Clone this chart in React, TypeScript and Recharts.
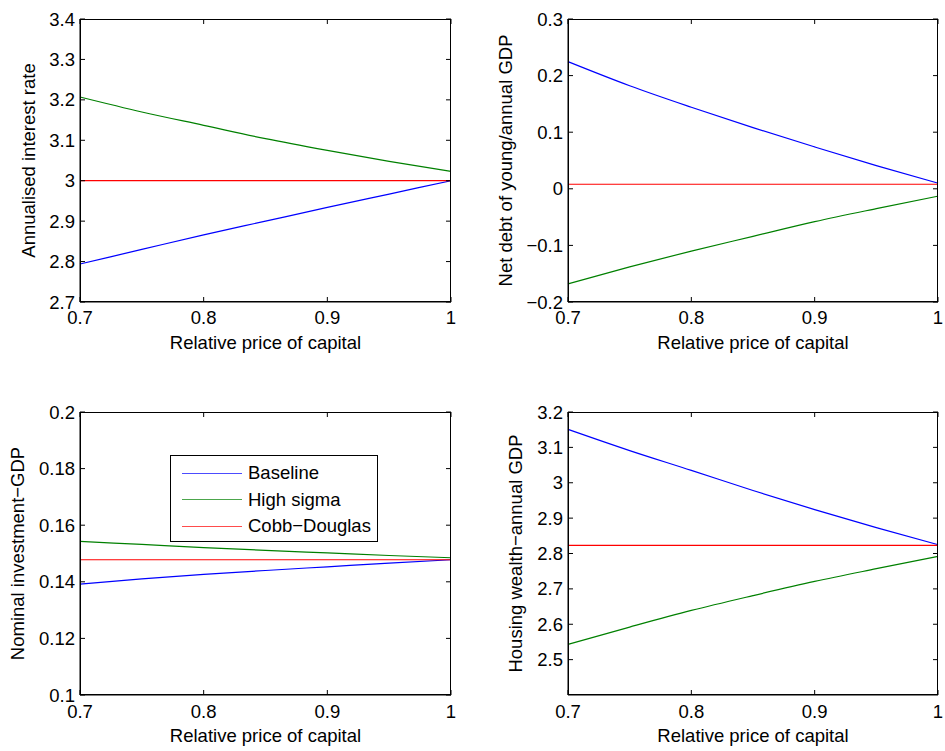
import { Label, Legend, Line, LineChart, XAxis, YAxis } from "recharts";

const prices = [0.7, 0.75, 0.8, 0.85, 0.9, 0.95, 1.0];
const priceTicks = [0.7, 0.8, 0.9, 1];

const rateBaseline = [2.794, 2.83, 2.866, 2.9, 2.934, 2.967, 3.0];
const rateHighSigma = [3.207, 3.17, 3.137, 3.104, 3.075, 3.048, 3.023];
const rateCobbDouglas = [3.0, 3.0, 3.0, 3.0, 3.0, 3.0, 3.0];
const rateTicks = [2.7, 2.8, 2.9, 3, 3.1, 3.2, 3.3, 3.4];

const debtBaseline = [0.2246, 0.182, 0.144, 0.108, 0.074, 0.041, 0.01];
const debtHighSigma = [-0.168, -0.138, -0.11, -0.084, -0.058, -0.035, -0.013];
const debtCobbDouglas = [0.008, 0.008, 0.008, 0.008, 0.008, 0.008, 0.008];
const debtTicks = [-0.2, -0.1, 0, 0.1, 0.2, 0.3];

const investBaseline = [0.1392, 0.141, 0.1426, 0.144, 0.1453, 0.1466, 0.1478];
const investHighSigma = [0.1543, 0.1532, 0.1521, 0.1511, 0.1502, 0.1493, 0.1485];
const investCobbDouglas = [0.1478, 0.1478, 0.1478, 0.1478, 0.1478, 0.1478, 0.1478];
const investTicks = [0.1, 0.12, 0.14, 0.16, 0.18, 0.2];

const housingBaseline = [3.151, 3.091, 3.035, 2.978, 2.924, 2.873, 2.825];
const housingHighSigma = [2.543, 2.592, 2.639, 2.681, 2.721, 2.757, 2.792];
const housingCobbDouglas = [2.823, 2.823, 2.823, 2.823, 2.823, 2.823, 2.823];
const housingTicks = [2.5, 2.6, 2.7, 2.8, 2.9, 3, 3.1, 3.2];

const seriesNames = ["Baseline", "High sigma", "Cobb\u2212Douglas"];
const seriesColors = ["#0000ff", "#008000", "#ff0000"];

const FONT = '"Liberation Sans", Arial, Helvetica, sans-serif';
const FONT_SIZE = 18.5;
const TICK_LEN = 5;
const PLOT_LEFT = 80;
const PLOT_TOP = 19;
const PLOT_H = 283;

function rows(baseline: number[], high: number[], cobb: number[]) {
  return prices.map((x, i) => ({ x, baseline: baseline[i], high: high[i], cobb: cobb[i] }));
}

const fmt = (v: number) => String(v).replace("-", "\u2212");

// x tick: label under the box plus inward stubs on the bottom and top edges
function XTick({ x, y, payload }: any) {
  const cx = payload.coordinate ?? x;
  const bottom = PLOT_TOP + PLOT_H;
  return (
    <g>
      <line x1={cx} x2={cx} y1={bottom} y2={bottom - TICK_LEN} stroke="#000" />
      <line x1={cx} x2={cx} y1={PLOT_TOP} y2={PLOT_TOP + TICK_LEN} stroke="#000" />
      <text x={cx} y={y} dy="0.71em" textAnchor="middle" fontSize={FONT_SIZE} fontFamily={FONT} fill="#000">
        {fmt(payload.value)}
      </text>
    </g>
  );
}

// y tick: label left of the box, inward stubs on both sides
function YTick({ x, y, payload, plotW }: any) {
  const cy = payload.coordinate ?? y;
  const rightEdge = PLOT_LEFT + plotW;
  return (
    <g>
      <line x1={PLOT_LEFT} x2={PLOT_LEFT + TICK_LEN} y1={cy} y2={cy} stroke="#000" />
      <line x1={rightEdge} x2={rightEdge - TICK_LEN} y1={cy} y2={cy} stroke="#000" />
      <text x={x} y={cy} dy="0.355em" textAnchor="end" fontSize={FONT_SIZE} fontFamily={FONT} fill="#000">
        {fmt(payload.value)}
      </text>
    </g>
  );
}

function YTitle({ viewBox, value, gap }: any) {
  const cx = viewBox.x + viewBox.width - gap;
  const cy = viewBox.y + viewBox.height / 2;
  return (
    <text
      x={cx}
      y={cy}
      transform={`rotate(-90, ${cx}, ${cy})`}
      textAnchor="middle"
      dominantBaseline="central"
      fontSize={FONT_SIZE}
      fontFamily={FONT}
      fill="#000"
    >
      {value}
    </text>
  );
}

function XTitle({ viewBox, value }: any) {
  const cx = viewBox.x + viewBox.width / 2;
  const cy = viewBox.y + 40;
  return (
    <text x={cx} y={cy} textAnchor="middle" dominantBaseline="central" fontSize={FONT_SIZE} fontFamily={FONT} fill="#000">
      {value}
    </text>
  );
}

function LegendBox() {
  return (
    <div
      style={{
        width: 206,
        height: 81,
        border: "1px solid #000",
        background: "#fff",
        fontFamily: FONT,
        fontSize: FONT_SIZE,
        color: "#000",
        paddingTop: 4,
        boxSizing: "content-box",
      }}
    >
      {seriesNames.map((name, i) => (
        <div key={name} style={{ display: "flex", alignItems: "center", height: 26.5 }}>
          <div style={{ width: 60, height: 0, borderTop: `1.5px solid ${seriesColors[i]}`, marginLeft: 11, marginRight: 6, opacity: 0.7 }} />
          <span>{name}</span>
        </div>
      ))}
    </div>
  );
}

interface PanelProps {
  data: ReturnType<typeof rows>;
  ticks: number[];
  domain: [number, number];
  yLabel: string;
  titleGap: number;
  left: number;
  top: number;
  width: number;
  height: number;
  right: number;
  tickGap: number;
  legend?: { left: number; top: number };
}

function Panel({ data, ticks, domain, yLabel, titleGap, left, top, width, height, right, tickGap, legend }: PanelProps) {
  const plotW = width - PLOT_LEFT - right;
  return (
    <div style={{ position: "absolute", left, top, width, height }}>
      <LineChart
        width={width}
        height={height}
        data={data}
        margin={{ top: PLOT_TOP, right, left: 0, bottom: height - PLOT_TOP - PLOT_H - 50 }}
        accessibilityLayer={false}
      >
        <XAxis
          dataKey="x"
          type="number"
          domain={[0.7, 1]}
          ticks={priceTicks}
          interval={0}
          height={50}
          tickLine={false}
          tickSize={0}
          tickMargin={tickGap - TICK_LEN}
          stroke="#000"
          tick={<XTick />}
        >
          <Label content={<XTitle value="Relative price of capital" />} />
        </XAxis>
        <YAxis
          type="number"
          domain={domain}
          ticks={ticks}
          interval={0}
          width={PLOT_LEFT}
          tickLine={false}
          tickSize={0}
          tickMargin={5}
          stroke="#000"
          tick={<YTick plotW={plotW} />}
          allowDataOverflow
        >
          <Label content={<YTitle value={yLabel} gap={titleGap} />} />
        </YAxis>
        <Line dataKey="baseline" name={seriesNames[0]} stroke={seriesColors[0]} strokeWidth={1.2} dot={false} type="monotone" isAnimationActive={false} />
        <Line dataKey="high" name={seriesNames[1]} stroke={seriesColors[1]} strokeWidth={1.2} dot={false} type="monotone" isAnimationActive={false} />
        <Line dataKey="cobb" name={seriesNames[2]} stroke={seriesColors[2]} strokeWidth={1.2} dot={false} type="monotone" isAnimationActive={false} />
        {legend && (
          <Legend
            layout="vertical"
            align="center"
            verticalAlign="middle"
            content={<LegendBox />}
            wrapperStyle={{ left: legend.left, top: legend.top, width: "auto", height: "auto" }}
          />
        )}
      </LineChart>
      {/* plot box frame, matlab style */}
      <div
        style={{
          position: "absolute",
          left: PLOT_LEFT,
          top: PLOT_TOP,
          width: plotW,
          height: PLOT_H,
          border: "1px solid #000",
          boxSizing: "border-box",
          pointerEvents: "none",
        }}
      />
    </div>
  );
}

export default function App() {
  return (
    <div style={{ position: "absolute", left: 0, top: 0, width: 945, height: 751, background: "#fff", overflow: "hidden" }}>
      <Panel
        data={rows(rateBaseline, rateHighSigma, rateCobbDouglas)}
        ticks={rateTicks}
        domain={[2.7, 3.4]}
        yLabel="Annualised interest rate"
        titleGap={52}
        left={0}
        top={0}
        width={470}
        height={375}
        right={19}
        tickGap={14}
      />
      <Panel
        data={rows(debtBaseline, debtHighSigma, debtCobbDouglas)}
        ticks={debtTicks}
        domain={[-0.2, 0.3]}
        yLabel="Net debt of young/annual GDP"
        titleGap={63}
        left={488}
        top={0}
        width={457}
        height={375}
        right={7}
        tickGap={14}
      />
      <Panel
        data={rows(investBaseline, investHighSigma, investCobbDouglas)}
        ticks={investTicks}
        domain={[0.1, 0.2]}
        yLabel={"Nominal investment\u2212GDP"}
        titleGap={63}
        left={0}
        top={393}
        width={470}
        height={358}
        right={19}
        tickGap={15}
        legend={{ left: 170, top: 62 }}
      />
      <Panel
        data={rows(housingBaseline, housingHighSigma, housingCobbDouglas)}
        ticks={housingTicks}
        domain={[2.4, 3.2]}
        yLabel={"Housing wealth\u2212annual GDP"}
        titleGap={53}
        left={488}
        top={393}
        width={457}
        height={358}
        right={7}
        tickGap={15}
      />
    </div>
  );
}
